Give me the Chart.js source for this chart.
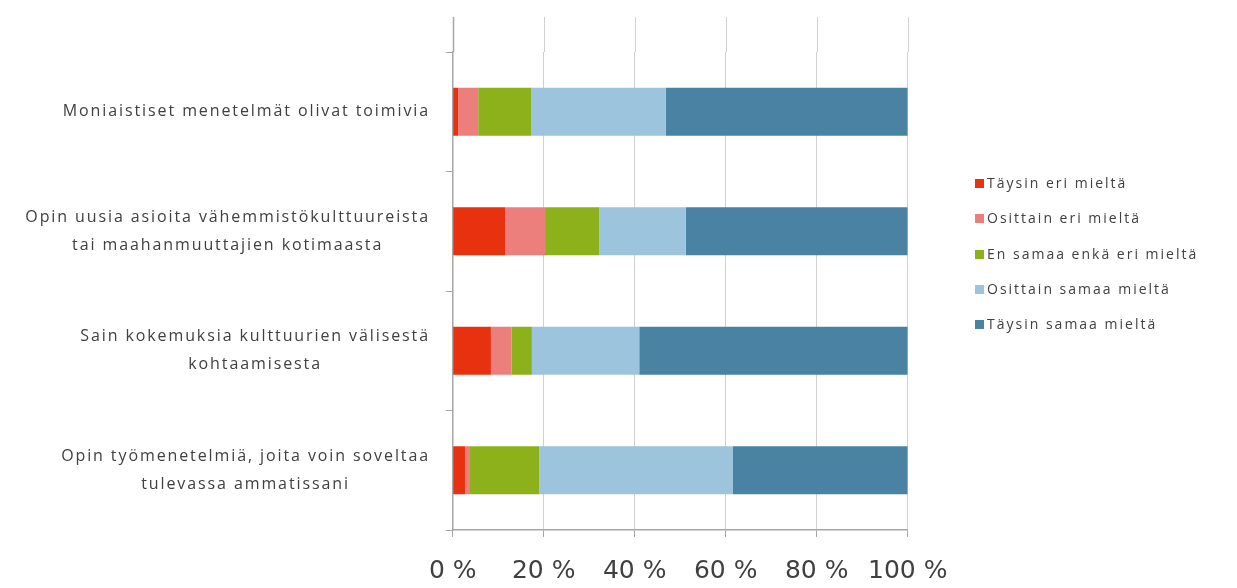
<!DOCTYPE html>
<html>
<head>
<meta charset="utf-8">
<script src="https://cdn.jsdelivr.net/npm/chart.js@4/dist/chart.umd.min.js"></script>
<style>
    body { margin: 0; background: #fff; }
    #wrap { position: relative; width: 1237px; height: 588px; }
    #legend { position: absolute; left: 975px; top: 0; font-family: "Open Sans", sans-serif; font-size: 14px; color: #404040; letter-spacing: 2px; }
    #legend div { position: absolute; white-space: nowrap; line-height: 16px; }
    #legend span { display: inline-block; width: 9px; height: 9px; margin-right: 3px; vertical-align: 0px; }
</style>
</head>
<body>
<div id="wrap">
    <canvas id="chart" width="1237" height="588"></canvas>
    <div id="legend"></div>
</div>
<script>
const categories = [
    ['Moniaistiset menetelmät olivat toimivia'],
    ['Opin uusia asioita vähemmistökulttuureista', 'tai maahanmuuttajien kotimaasta'],
    ['Sain kokemuksia kulttuurien välisestä', 'kohtaamisesta'],
    ['Opin työmenetelmiä, joita voin soveltaa', 'tulevassa ammatissani']
];
const seriesNames = ['Täysin eri mieltä', 'Osittain eri mieltä', 'En samaa enkä eri mieltä', 'Osittain samaa mieltä', 'Täysin samaa mieltä'];
const taysinEri = [1.2, 11.5, 8.4, 2.7];
const osittainEri = [4.4, 8.8, 4.5, 1.1];
const enSamaa = [11.7, 11.9, 4.5, 15.2];
const osittainSamaa = [29.5, 19.0, 23.6, 42.5];
const taysinSamaa = [53.2, 48.8, 59.0, 38.5];
const xTicks = [0, 20, 40, 60, 80, 100];
const colors = ['#e8310f', '#ec7f7c', '#8cb11a', '#9cc5dd', '#4982a2'];

// Left labels: each label centred on itself, right edge at 430
const labelPlugin = {
    id: 'leftLabels',
    afterDraw(chart) {
        const ctx = chart.ctx;
        const y = chart.scales.y;
        ctx.save();
        ctx.font = '16px "Open Sans"';
        ctx.letterSpacing = '1.9px';
        ctx.fillStyle = '#404040';
        ctx.textAlign = 'center';
        ctx.textBaseline = 'middle';
        categories.forEach((lines, i) => {
            const cy = y.getPixelForValue(i);
            const w = Math.max(...lines.map(l => ctx.measureText(l).width));
            const cx = 430 - w / 2;
            lines.forEach((l, j) => {
                ctx.fillText(l, cx, cy + (j - (lines.length - 1) / 2) * 28);
            });
        });
        ctx.restore();
    }
};

// gridlines continue above the category area
const topGrid = {
    id: 'topGrid',
    beforeDatasetsDraw(chart) {
        const ctx = chart.ctx;
        const x = chart.scales.x;
        ctx.save();
        xTicks.forEach(v => {
            const px = Math.round(x.getPixelForValue(v)) + 0.5;
            ctx.strokeStyle = v === 0 ? '#a6a6a6' : '#d0d0d0';
            ctx.lineWidth = v === 0 ? 1.5 : 1;
            ctx.beginPath();
            ctx.moveTo(px, 17);
            ctx.lineTo(px, chart.chartArea.top);
            ctx.stroke();
        });
        ctx.restore();
    }
};

const data = [taysinEri, osittainEri, enSamaa, osittainSamaa, taysinSamaa];

new Chart(document.getElementById('chart'), {
    type: 'bar',
    data: {
        labels: categories.map(c => c.join(' ')),
        datasets: seriesNames.map((name, i) => ({
            label: name,
            data: data[i],
            backgroundColor: colors[i],
            borderWidth: 0,
            barPercentage: 0.4,
            categoryPercentage: 1
        }))
    },
    options: {
        indexAxis: 'y',
        responsive: false,
        animation: false,
        layout: { padding: { left: 445.7, right: 329.3, top: 52, bottom: 10 } },
        plugins: { legend: { display: false }, tooltip: { enabled: false } },
        scales: {
            x: {
                stacked: true,
                min: 0, max: 100,
                ticks: {
                    stepSize: 20,
                    padding: 19,
                    color: '#404040',
                    font: { family: '"DejaVu Sans"', size: 25 },
                    callback: v => v + ' %'
                },
                grid: { color: '#d0d0d0', tickLength: 7, tickColor: '#a6a6a6' },
                border: { color: '#a6a6a6', width: 1.5 },
                afterFit: s => { s.height = 48; }
            },
            y: {
                stacked: true,
                ticks: { display: false },
                grid: { drawOnChartArea: false, offset: true, tickLength: 7, color: '#a6a6a6' },
                border: { color: '#a6a6a6', width: 1.5 },
                afterFit: s => { s.width = 7; }
            }
        }
    },
    plugins: [labelPlugin, topGrid]
});

// legend
const legend = document.getElementById('legend');
const rowY = [183, 218, 254, 289, 324];
seriesNames.forEach((name, i) => {
    const row = document.createElement('div');
    row.style.top = (rowY[i] - 8) + 'px';
    row.innerHTML = `<span style="background:${colors[i]}"></span>${name}`;
    legend.appendChild(row);
});
</script>
</body>
</html>
